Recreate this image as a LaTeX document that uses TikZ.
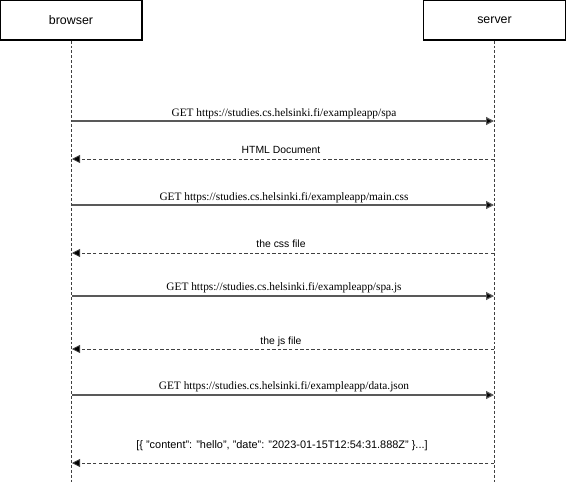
\documentclass[tikz,border=0pt]{standalone}
\usepackage{fontspec}
\setmainfont{Liberation Sans}
\newfontfamily\urlfont{Liberation Serif}
\usetikzlibrary{arrows.meta}
\tikzset{
  actor/.style={draw=black, line width=0.9pt, fill=white, minimum width=106.5pt, minimum height=30pt, inner sep=0pt, font=\fontsize{9.3}{11}\selectfont},
  lifeline/.style={draw=black!75, line width=0.6pt, dash pattern=on 2.2pt off 1.5pt},
  req/.style={draw=black!65, line width=0.9pt, -{Triangle[length=6pt,width=6pt,fill=black]}},
  resp/.style={draw=black!75, line width=0.6pt, dash pattern=on 2.6pt off 1.6pt, -{Triangle[length=6pt,width=6pt,fill=black]}},
  reqlabel/.style={font=\urlfont\fontsize{8.5}{10}\selectfont, inner sep=0pt, anchor=base},
  resplabel/.style={font=\fontsize{7.8}{9}\selectfont, inner sep=0pt, anchor=base}
}
\begin{document}
\begin{tikzpicture}[x=0.75pt, y=-0.75pt]
\useasboundingbox (0,0) rectangle (566,482);
\node[actor] (browser) at (71,20) {browser};
\node[actor] (server) at (494.5,20) {server};
\coordinate (bend) at (71,482);
\coordinate (send) at (494.5,482);
\draw[lifeline] (browser.south) -- (bend);
\draw[lifeline] (server.south) -- (send);
% messages
\foreach \n/\y in {b1/121,b2/159,b3/205,b4/253,b5/296,b6/349,b7/395,b8/463}{
  \coordinate (\n) at (72,\y);
}
\foreach \n/\y in {s1/121,s2/159,s3/205,s4/253,s5/296,s6/349,s7/395,s8/463}{
  \coordinate (\n) at (494,\y);
}
\draw[req] (b1) -- (s1);
\node[reqlabel] (l1) at (284,116) {GET https://studies.cs.helsinki.fi/exampleapp/spa};
\draw[resp] (s2) -- (b2);
\node[resplabel] (l2) at (281,153) {HTML Document};
\draw[req] (b3) -- (s3);
\node[reqlabel] (l3) at (284,200) {GET https://studies.cs.helsinki.fi/exampleapp/main.css};
\draw[resp] (s4) -- (b4);
\node[resplabel] (l4) at (281,247) {the css file};
\draw[req] (b5) -- (s5);
\node[reqlabel] (l5) at (284,290) {GET https://studies.cs.helsinki.fi/exampleapp/spa.js};
\draw[resp] (s6) -- (b6);
\node[resplabel] (l6) at (281,344) {the js file};
\draw[req] (b7) -- (s7);
\node[reqlabel] (l7) at (284,389) {GET https://studies.cs.helsinki.fi/exampleapp/data.json};
\draw[resp] (s8) -- (b8);
\node[resplabel,font=\fontsize{8.2}{9}\selectfont] (l8) at (282,448) {[\{ "content": "hello", "date": "2023-01-15T12:54:31.888Z" \}...]};
\end{tikzpicture}
\end{document}
